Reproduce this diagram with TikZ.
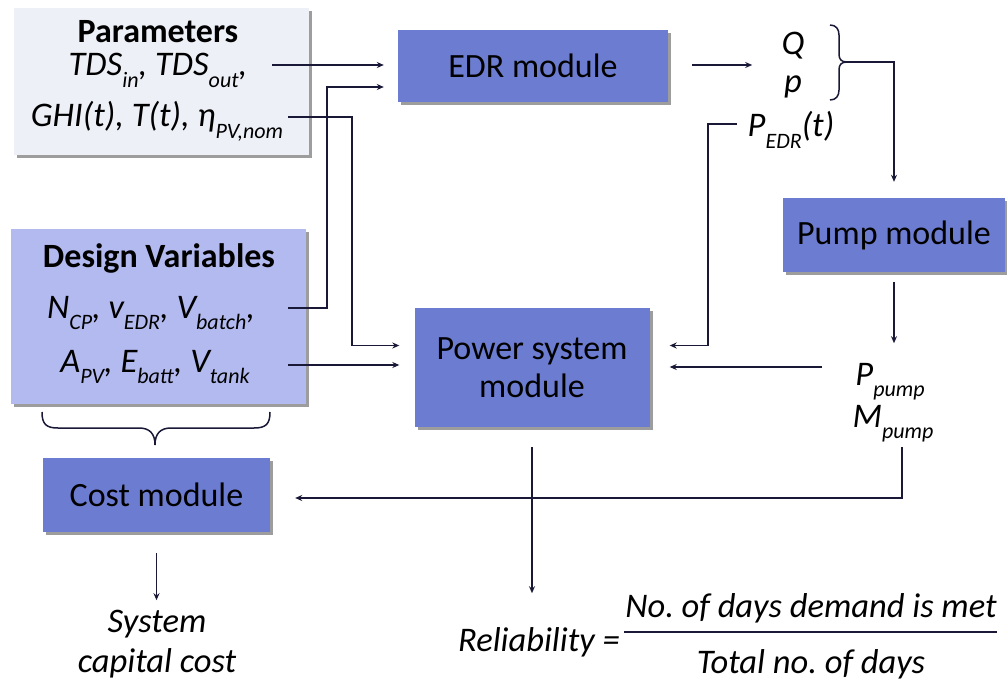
\documentclass[tikz,border=0pt]{standalone}
\usepackage{fontspec}
\setmainfont{Carlito}
\usetikzlibrary{arrows.meta,shadows,calc}
\frenchspacing
\newcommand{\sbs}[1]{\raisebox{-0.32em}{\fontsize{22}{22}\selectfont #1}}
\definecolor{modfill}{RGB}{108,124,208}
\definecolor{dvfill}{RGB}{178,186,240}
\definecolor{parfill}{RGB}{238,240,248}
\definecolor{lncol}{RGB}{25,25,55}
\tikzset{
  box/.style={rectangle, draw=none, inner sep=0pt,
    drop shadow={shadow xshift=3pt, shadow yshift=-3pt, fill=black!55, opacity=.7}},
  module/.style={box, fill=modfill, font=\fontsize{34}{38}\selectfont, align=center},
  lbl/.style={font=\fontsize{34.5}{40}\selectfont\itshape, inner sep=0pt, anchor=base, text=black},
  ttl/.style={font=\fontsize{34}{40}\selectfont\bfseries, inner sep=0pt, anchor=base, text=black},
  wire/.style={draw=lncol, line width=1.5pt},
  arr/.style={wire, -{Stealth[length=7pt,width=6pt]}},
}
\begin{document}
\begin{tikzpicture}[x=1pt,y=-1pt]
\useasboundingbox (0,0) rectangle (1007,682);
% boxes
\node[box, fill=parfill, minimum width=295pt, minimum height=147pt] (params) at (161,82) {};
\node[box, fill=dvfill, minimum width=295pt, minimum height=175pt] (design) at (158,316.5) {};
\node[module, minimum width=270pt, minimum height=72pt] (edr) at (533,66) {EDR module};
\node[module, minimum width=222pt, minimum height=74pt] (pump) at (894,235) {Pump module};
\node[module, minimum width=235pt, minimum height=119pt] (power) at (532,367.5) {Power system\\module};
\node[module, minimum width=227pt, minimum height=74pt] (cost) at (156.5,495) {Cost module};
% parameter texts
\node[ttl] (ptitle) at (158,43) {Parameters};
\node[lbl] (pline1) at (158,76) {TDS\sbs{in}, TDS\sbs{out},};
\node[lbl] (pline2) at (157,127) {GHI(t), T(t), η\sbs{PV,nom}};
\node[ttl] (dtitle) at (159,267) {Design Variables};
\node[lbl] (dline1) at (151,318) {N\sbs{CP}, v\sbs{EDR}, V\sbs{batch},};
\node[lbl] (dline2) at (155,372) {A\sbs{PV}, E\sbs{batt}, V\sbs{tank}};
% right side labels
\node[lbl] (q) at (793,55) {Q};
\node[lbl] (p) at (793,93) {p};
\node[lbl] (pedr) at (791,137) {P\sbs{EDR}(t)};
\node[lbl] (ppump) at (890,385) {P\sbs{pump}};
\node[lbl] (mpump) at (893,427) {M\sbs{pump}};
\node[lbl, align=center, font=\fontsize{34.5}{40}\selectfont\itshape] (cap) at (157,672) {System\\capital cost};
\node[lbl, anchor=base east] (rel) at (620,651) {Reliability =};
\node[lbl] (num) at (811,617) {No. of days demand is met};
\node[lbl] (den) at (811,673) {Total no. of days};
% free ends
\coordinate (s1) at (272,65);
\coordinate (s2) at (288,308);
\coordinate (s3) at (288,117);
\coordinate (s4) at (288,365);
\coordinate (pe) at (737,124);
\coordinate (pp) at (822,367);
\coordinate (mp) at (902,447);
\coordinate (bqt) at (847,62);
% connectors left
\draw[arr] (s1) -- ([xshift=-14pt]edr.west |- s1);
\draw[arr] (s2) -- ++(39,0) |- ([xshift=-14pt,yshift=-21pt]edr.west);
\draw[arr] (s3) -- ++(64,0) |- ([xshift=-15pt,yshift=22pt]power.west);
\draw[arr] (s4) -- ([xshift=-15pt]power.west |- s4);
% right
\draw[arr] ([xshift=24pt,yshift=1pt]edr.east) -- ([xshift=84pt,yshift=1pt]edr.east);
\draw[wire] (830,25) .. controls (836,25) and (839,29) .. (839,35) -- (839,54)
  .. controls (839,59) and (841,62) .. (bqt) .. controls (841,62) and (839,65) .. (839,70)
  -- (839,90) .. controls (839,96) and (836,100) .. (830,100);
\draw[arr] (bqt) -| ([yshift=16pt]pump.north);
\draw[arr] (pe) -- ++(-29,0) |- ([xshift=20pt,yshift=22pt]power.east);
\draw[arr] ([yshift=-10pt]pump.south) -- ([yshift=-71pt]pump.south);
\draw[arr] (pp) -- ([xshift=20pt]power.east |- pp);
\draw[arr] (mp) -- ++(0,51) -- ([xshift=25pt]cost.east |- 0,498);
\draw[arr] ([yshift=-20pt]power.south) -- ([yshift=-166pt]power.south);
\draw[arr] ([yshift=-21pt]cost.south) -- ([yshift=-68pt]cost.south);
% lower brace
\draw[wire] (42,412) .. controls (42,424) and (46,428) .. (58,428) -- (139,428)
  .. controls (150,428) and (155,434) .. (155,445) .. controls (155,434) and (160,428) .. (171,428)
  -- (254,428) .. controls (266,428) and (270,424) .. (270,412);
% fraction bar
\draw[wire] (624,632) -- (997,632);
\end{tikzpicture}
\end{document}
